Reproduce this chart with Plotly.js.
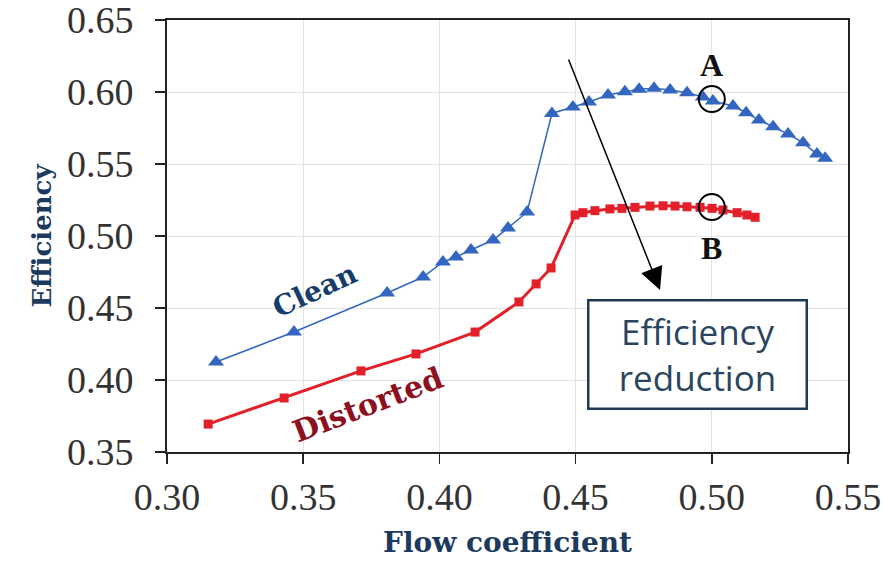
<!DOCTYPE html>
<html>
<head>
<meta charset="utf-8">
<script src="https://cdn.plot.ly/plotly-3.0.1.min.js"></script>
<style>html,body{margin:0;padding:0;background:#fff;}#chart{width:883px;height:561px;}</style>
</head>
<body>
<div id="chart"></div>
<script>
// Clean (undistorted inflow) efficiency curve
const cleanFlow = [0.318, 0.3466, 0.3808, 0.394, 0.4013, 0.4061, 0.4116, 0.4197, 0.4252, 0.4322,
  0.4413, 0.449, 0.4549, 0.4619, 0.4681, 0.4733, 0.4788, 0.4847, 0.4909, 0.4967, 0.5004,
  0.5078, 0.5126, 0.5173, 0.5225, 0.528, 0.5335, 0.5386, 0.5416];
const cleanEff = [0.4125, 0.4333, 0.4604, 0.4715, 0.482, 0.4854, 0.4903, 0.4972, 0.5056, 0.5167,
  0.5851, 0.5896, 0.5931, 0.5979, 0.6002, 0.6019, 0.6026, 0.6014, 0.5995, 0.5965, 0.5938,
  0.5903, 0.5856, 0.5806, 0.5759, 0.5708, 0.5648, 0.5569, 0.554];

// Distorted inflow efficiency curve
const distFlow = [0.3151, 0.343, 0.3712, 0.3914, 0.4131, 0.4292, 0.4355, 0.441, 0.4498, 0.4527,
  0.4571, 0.4626, 0.467, 0.4718, 0.4773, 0.4821, 0.4865, 0.4909, 0.4957, 0.5001, 0.5041,
  0.5093, 0.5129, 0.5159];
const distEff = [0.3694, 0.3875, 0.4063, 0.4181, 0.4333, 0.4542, 0.4667, 0.4778, 0.5146, 0.5162,
  0.5176, 0.5188, 0.5192, 0.5199, 0.5208, 0.521, 0.5208, 0.5203, 0.5199, 0.5192, 0.5181,
  0.5162, 0.5146, 0.513];

// Marked operating points
const pointLabels = ['A', 'B'];
const pointFlow = [0.50, 0.50];
const pointEff = [0.5951, 0.5201];

// Tick values
const xTicks = [0.30, 0.35, 0.40, 0.45, 0.50, 0.55];
const yTicks = [0.35, 0.40, 0.45, 0.50, 0.55, 0.60, 0.65];

const serifBold = '"DejaVu Serif", "Liberation Serif", serif';
const tickSerif = '"Liberation Serif", "Times New Roman", serif';
const navy = '#1b3a5e';

const traces = [
  {
    x: cleanFlow, y: cleanEff, type: 'scatter', mode: 'lines+markers', name: 'Clean',
    line: {color: '#3366c0', width: 1.5},
    marker: {symbol: 'triangle-up', size: 14, color: '#3366c0'}
  },
  {
    x: distFlow, y: distEff, type: 'scatter', mode: 'lines+markers', name: 'Distorted',
    line: {color: '#e3202a', width: 3},
    marker: {symbol: 'square', size: 9, color: '#e3202a'}
  },
  {
    x: pointFlow, y: pointEff, type: 'scatter', mode: 'markers', name: 'points',
    marker: {symbol: 'circle-open', size: 26, color: '#000', line: {width: 2, color: '#000'}},
    hoverinfo: 'skip'
  }
];

const annotations = [
  {x: 0.3543, y: 0.4625, xref: 'x', yref: 'y', text: 'Clean', showarrow: false, textangle: -25,
   font: {family: serifBold, size: 28, color: '#163c6b', weight: 'bold'}},
  {x: 0.3738, y: 0.3827, xref: 'x', yref: 'y', text: 'Distorted', showarrow: false, textangle: -21,
   font: {family: serifBold, size: 30, color: '#8c1020', weight: 'bold'}},
  {x: 0.481, y: 0.4625, xref: 'x', yref: 'y', ax: 0.4472, ay: 0.6236, axref: 'x', ayref: 'y',
   text: '', showarrow: true, arrowhead: 2, arrowsize: 3, arrowwidth: 1.5, arrowcolor: '#000'},
  {x: 0.4946, y: 0.4174, xref: 'x', yref: 'y', text: 'Efficiency<br>reduction', showarrow: false,
   font: {family: '"Open Sans", sans-serif', size: 35, color: '#2b4560'},
   bordercolor: '#1f3a57', borderwidth: 2.5, borderpad: 0, bgcolor: '#fff',
   width: 216, height: 106, align: 'center'}
];
pointLabels.forEach((lab, i) => {
  annotations.push({x: pointFlow[i], y: pointEff[i], xref: 'x', yref: 'y', text: lab, showarrow: false,
    yshift: i === 0 ? 34 : -41,
    font: {family: tickSerif, size: 32, color: '#111', weight: 'bold'}});
});

const layout = {
  width: 883, height: 561,
  margin: {l: 167, r: 35, t: 20, b: 109},
  paper_bgcolor: '#fff', plot_bgcolor: '#fff',
  showlegend: false,
  xaxis: {
    range: [0.30, 0.55], tickvals: xTicks, tickformat: '.2f',
    showgrid: true, gridcolor: '#e3e3e3', gridwidth: 1, zeroline: false,
    showline: true, linecolor: '#222', linewidth: 2, mirror: true,
    ticks: 'outside', ticklen: 10, tickwidth: 1.5, tickcolor: '#222',
    ticklabeloverflow: 'allow',
    tickfont: {family: tickSerif, size: 38, color: '#333'},
    title: {text: 'Flow coefficient', standoff: 16,
      font: {family: serifBold, size: 28, color: navy, weight: 'bold'}}
  },
  yaxis: {
    range: [0.35, 0.65], tickvals: yTicks, tickformat: '.2f',
    showgrid: true, gridcolor: '#e3e3e3', gridwidth: 1, zeroline: false,
    showline: true, linecolor: '#222', linewidth: 2, mirror: true,
    ticks: 'outside', ticklen: 10, tickwidth: 1.5, tickcolor: '#222',
    ticklabelstandoff: 14, ticklabeloverflow: 'allow',
    tickfont: {family: tickSerif, size: 38, color: '#333'},
    title: {text: 'Efficiency', standoff: 8,
      font: {family: serifBold, size: 26, color: navy, weight: 'bold'}}
  },
  annotations: annotations
};

Plotly.newPlot('chart', traces, layout, {displayModeBar: false, staticPlot: true});
</script>
</body>
</html>
